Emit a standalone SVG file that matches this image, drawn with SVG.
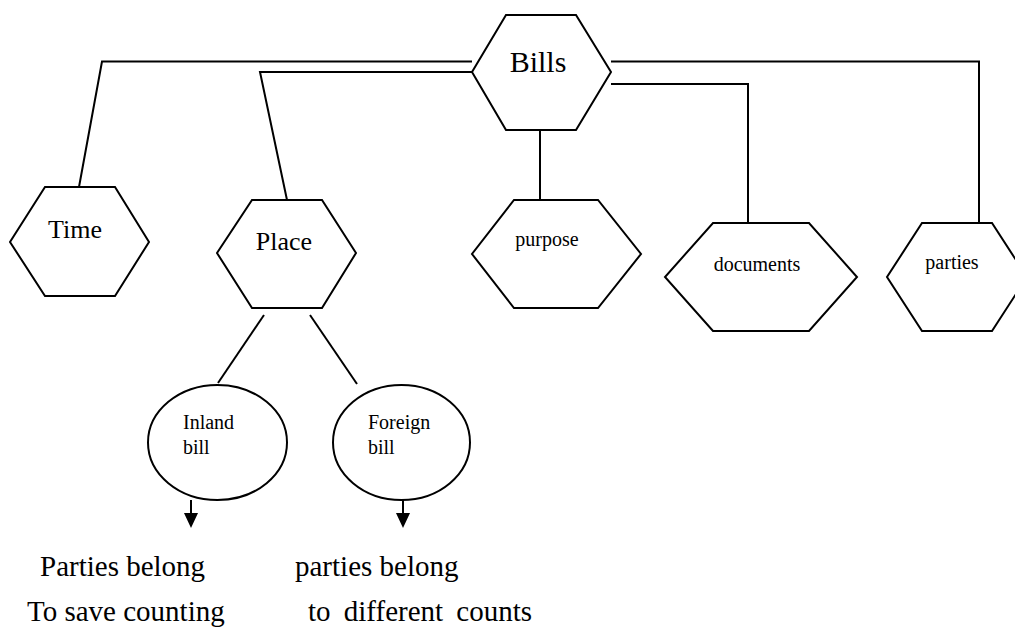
<svg xmlns="http://www.w3.org/2000/svg" width="1015" height="633" viewBox="0 0 1015 633">
<style>
.shape{fill:#fff;stroke:#000;stroke-width:2}
.conn{fill:none;stroke:#000;stroke-width:2}
text{font-family:"Liberation Serif","Times New Roman",serif;fill:#000}
.big{font-size:30px}
.mid{font-size:26px}
.sm{font-size:20px}
.note{font-size:29px}
</style>
<rect width="1015" height="633" fill="#fff"/>
<g id="connectors">
<polyline class="conn" points="472,61.5 102,61.5 79,187"/>
<polyline class="conn" points="472,72 260,72 287,200"/>
<line class="conn" x1="540" y1="130" x2="540" y2="202"/>
<polyline class="conn" points="611,84 748,84 748,223"/>
<polyline class="conn" points="611,61.5 979,61.5 979,223"/>
<line class="conn" x1="264" y1="315" x2="218" y2="383"/>
<line class="conn" x1="310" y1="315" x2="357" y2="384"/>
<line class="conn" x1="191" y1="500" x2="191" y2="514"/>
<path d="M184,513 L198,513 L191,528 Z" fill="#000"/>
<line class="conn" x1="403" y1="500" x2="403" y2="514"/>
<path d="M396,513 L410,513 L403,528 Z" fill="#000"/>
</g>
<g id="bills">
<polygon class="shape" points="506,15 576,15 611,72 576,130 506,130 472,72"/>
<text class="big" x="538" y="72" text-anchor="middle">Bills</text>
</g>
<g id="time">
<polygon class="shape" points="45,187 115,187 149,242 115,296 45,296 10,242"/>
<text class="mid" x="75" y="238" text-anchor="middle">Time</text>
</g>
<g id="place">
<polygon class="shape" points="252,200 322,200 356,253 322,308 252,308 217,253"/>
<text class="mid" x="284" y="250" text-anchor="middle">Place</text>
</g>
<g id="purpose">
<polygon class="shape" points="514,200 598,200 641,254 598,308 514,308 472,254"/>
<text class="sm" x="547" y="246" text-anchor="middle">purpose</text>
</g>
<g id="documents">
<polygon class="shape" points="713,223 809,223 857,277 809,331 713,331 665,277"/>
<text class="sm" x="757" y="271" text-anchor="middle">documents</text>
</g>
<g id="parties">
<polygon class="shape" points="922,223 992,223 1027,277 992,331 922,331 887,277"/>
<text class="sm" x="952" y="269" text-anchor="middle">parties</text>
</g>
<g id="inland">
<ellipse class="shape" cx="217.5" cy="442.5" rx="69.5" ry="57.5"/>
<text class="sm" x="183" y="429">Inland</text>
<text class="sm" x="183" y="454">bill</text>
</g>
<g id="foreign">
<ellipse class="shape" cx="401.5" cy="442.5" rx="68.5" ry="57.5"/>
<text class="sm" x="368" y="429">Foreign</text>
<text class="sm" x="368" y="454">bill</text>
</g>
<g id="notes">
<text class="note" x="40" y="576">Parties belong</text>
<text class="note" x="27" y="621">To save counting</text>
<text class="note" x="295" y="576">parties belong</text>
<text class="note" x="308" y="621" word-spacing="6">to different counts</text>
</g>
</svg>
